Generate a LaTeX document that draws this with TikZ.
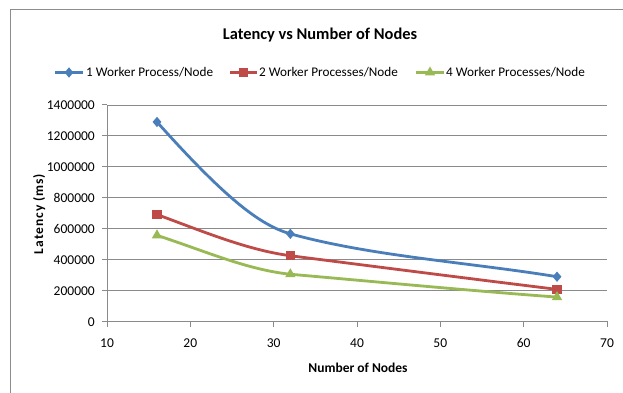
\documentclass[tikz,border=0pt]{standalone}
\usepackage{fontspec}
\setmainfont{Carlito}
\usetikzlibrary{shapes.geometric}

\definecolor{serblue}{HTML}{4A7EBB}
\definecolor{serred}{HTML}{BE4B48}
\definecolor{sergreen}{HTML}{98B954}
\definecolor{gridgray}{HTML}{8A8A8A}
\definecolor{framegray}{HTML}{8C8C8C}

\tikzset{
  gridline/.style={draw=gridgray, line width=0.9pt},
  axisline/.style={draw=gridgray, line width=1pt},
  ticklab/.style={font=\fontsize{13.5}{16}\selectfont, inner sep=0pt},
  legtext/.style={font=\fontsize{13.2}{16}\selectfont, inner sep=0pt, anchor=base west},
  axtitle/.style={font=\fontsize{13.5}{16}\selectfont\bfseries, inner sep=0pt, anchor=base},
  series/.style={line width=2.8pt, line cap=round, line join=round},
  mkdiamond/.style={shape=diamond, fill=serblue, inner sep=0pt, minimum width=9pt, minimum height=10.5pt},
  mksquare/.style={shape=rectangle, fill=serred, inner sep=0pt, minimum size=9.5pt},
  mktriangle/.style={shape=regular polygon, regular polygon sides=3, fill=sergreen, inner sep=0pt, minimum size=12pt},
}

\begin{document}
\begin{tikzpicture}[x=1pt, y=-1pt]
\useasboundingbox (0,0) rectangle (623,393);
\fill[white] (0,0) rectangle (623,393);

% chart frame (open towards the right and bottom edges)
\draw[framegray, line width=1.3pt] (10.3,393) -- (10.3,9.6) -- (623,9.6);

% title
\node[font=\fontsize{16.4}{19}\selectfont\bfseries, inner sep=0pt, anchor=base]
  (title) at (320,40) {Latency vs Number of Nodes};

% legend
\coordinate (lgA-l) at (55,72.5);  \coordinate (lgA-r) at (83,72.5);
\coordinate (lgB-l) at (230,72.5); \coordinate (lgB-r) at (257,72.5);
\coordinate (lgC-l) at (416,72.5); \coordinate (lgC-r) at (444,72.5);
\draw[series, serblue, line cap=butt] (lgA-l) -- (lgA-r);
\draw[series, serred, line cap=butt] (lgB-l) -- (lgB-r);
\draw[series, sergreen, line cap=butt] (lgC-l) -- (lgC-r);
\node[mkdiamond] (mA) at (69,72.5) {};
\node[mksquare] (mB) at (243.5,72.5) {};
\node[mktriangle] (mC) at (430,72.5) {};
\node[legtext] (tA) at (86,77) {1 Worker Process/Node};
\node[legtext] (tB) at (259,77) {2 Worker Processes/Node};
\node[legtext] (tC) at (446,77) {4 Worker Processes/Node};

% axis titles
\node[axtitle] (xtitle) at (358,372) {Number of Nodes};
\node[axtitle, rotate=90] (ytitle) at (43,214)
  {\addfontfeature{LetterSpace=7}Latency (ms)};

% plot area: x in nodes, y in units of 100000 ms
\begin{scope}[shift={(23.667pt,-321pt)}, x=8.3333pt, y=15.43pt]
  % horizontal gridlines
  \foreach \k in {2,4,...,14}
    \draw[gridline] (10,\k) -- (70,\k);
  % axes
  \draw[axisline] (10,0) -- (70,0);
  \draw[axisline] (10,0) -- (10,14);
  % y ticks and labels
  \foreach \k/\lab in {0/0,2/200000,4/400000,6/600000,8/800000,10/1000000,12/1200000,14/1400000}{
    \draw[axisline] (10,\k) -- ++(-5.5pt,0pt);
    \node[ticklab, anchor=base east, xshift=-12pt, yshift=-5pt] (yt\k) at (10,\k) {\lab};
  }
  % x ticks and labels
  \foreach \v in {10,20,...,70}{
    \draw[axisline] (\v,0) -- ++(0pt,-6pt);
    \node[ticklab, anchor=base, yshift=-26pt] (xt\v) at (\v,0) {\v};
  }

  % data points
  \coordinate (b1) at (16,12.9);  \coordinate (b2) at (32,5.65); \coordinate (b3) at (64,2.87);
  \coordinate (r1) at (16,6.9);   \coordinate (r2) at (32,4.23); \coordinate (r3) at (64,2.05);
  \coordinate (g1) at (16,5.55);  \coordinate (g2) at (32,3.03); \coordinate (g3) at (64,1.55);

  % smoothed series lines
  \draw[series, serblue] (b1) .. controls (24.64,7.68) and (28.6,6.18) .. (b2)
                              .. controls (41.8,4.19) and (53.44,3.80) .. (b3);
  \draw[series, serred] (r1) .. controls (21.64,5.78) and (26.8,4.61) .. (r2)
                             .. controls (43.0,3.47) and (53.44,2.75) .. (r3);
  \draw[series, sergreen] (g1) .. controls (21.64,4.56) and (26.8,3.32) .. (g2)
                               .. controls (43.0,2.51) and (53.44,1.97) .. (g3);

  % markers
  \foreach \p in {b1,b2,b3} \node[mkdiamond] (m-\p) at (\p) {};
  \foreach \p in {r1,r2,r3} \node[mksquare] (m-\p) at (\p) {};
  \foreach \p in {g1,g2,g3} \node[mktriangle] (m-\p) at (\p) {};
\end{scope}
\end{tikzpicture}
\end{document}
